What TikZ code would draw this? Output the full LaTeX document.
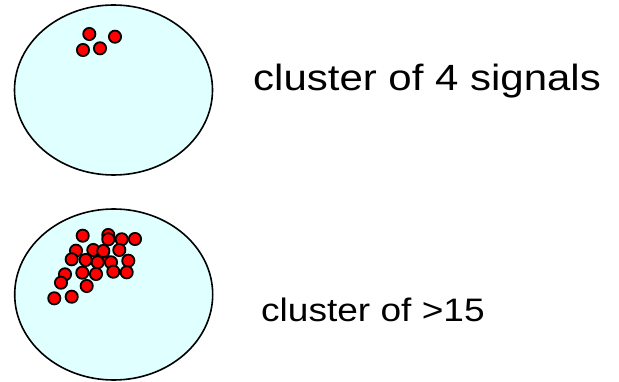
\documentclass[tikz,border=0pt]{standalone}
\usepackage{fontspec}
\setmainfont{Liberation Sans}
\usepackage{tikz}
\usetikzlibrary{positioning}
\definecolor{pale}{RGB}{224,255,255}
\tikzstyle{cluster} = [draw=black, line width=1.6pt, fill=pale]
\tikzstyle{signal} = [draw=black, line width=1.8pt, fill=red]
\tikzstyle{caption} = [anchor=base west, inner sep=0pt]

\begin{document}
\begin{tikzpicture}[x=1pt, y=-1pt]
    \useasboundingbox (0,0) rectangle (619,382);

    % small cluster
    \draw[cluster] (113.5,90) ellipse [x radius=99, y radius=85];
    \foreach \px/\py in {89.3/34, 115/36.7, 83/50, 100/48.3}
        \draw[signal] (\px,\py) circle (6.1);
    \node[caption] (small) at (253,91) {\fontsize{36.5}{40}\selectfont\scalebox{1.15}[1]{cluster of 4 signals}};

    % big cluster
    \draw[cluster] (113.7,294.5) ellipse [x radius=99, y radius=85.5];
    \foreach \px/\py in {82.7/235.7, 108.3/235, 108.3/239.3, 121.7/239.3, 135/239,
                         102.7/256.7, 76/250.7, 93.3/250, 103.3/251, 119.3/250,
                         71.7/259.3, 85.7/260, 97.7/262.3, 111/262.3, 128.3/260.7,
                         65/274.3, 82.3/272.7, 96/274, 113.3/271.7, 126.7/272.3,
                         61/282.7, 86.7/286, 54.3/298.3, 71.7/296.7}
        \draw[signal] (\px,\py) circle (6.1);
    \node[caption] (big) at (261,321.5) {\fontsize{32.5}{36}\selectfont\scalebox{1.14}[1]{cluster of >15}};
\end{tikzpicture}
\end{document}
